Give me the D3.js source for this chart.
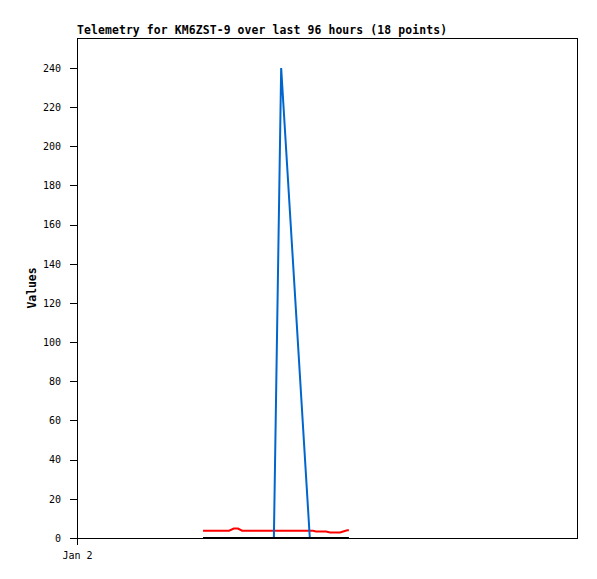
<!DOCTYPE html>
<html>
<head>
<meta charset="utf-8">
<script src="https://cdn.jsdelivr.net/npm/d3@7"></script>
<style>
  body { margin: 0; background: #fff; }
  text { font-family: "DejaVu Sans Mono", monospace; fill: #000; }
</style>
</head>
<body>
<div id="chart"></div>
<script>
// Telemetry readings, hours after Jan 2 00:00
var hours = [24.2, 26.5, 29.2, 30.1, 30.9, 31.7, 34.0, 37.8, 39.2, 44.7, 45.3, 45.9, 47.8, 48.6, 50.5, 51.1, 51.9, 52.2];
var chanA = [3.7, 3.7, 3.7, 4.8, 4.8, 3.7, 3.7, 3.7, 3.7, 3.7, 3.7, 3.3, 3.3, 2.8, 2.8, 3.3, 3.9, 3.9];
var chanB = [0, 0, 0, 0, 0, 0, 0, 0, 240, 0, 0, 0, 0, 0, 0, 0, 0, 0];
var chanC = [0, 0, 0, 0, 0, 0, 0, 0, 0, 0, 0, 0, 0, 0, 0, 0, 0, 0];
var yTicks = [0, 20, 40, 60, 80, 100, 120, 140, 160, 180, 200, 220, 240];
var title = 'Telemetry for KM6ZST-9 over last 96 hours (18 points)';

var width = 597, height = 579,
    margin = {left: 77, right: 20, top: 38, bottom: 41};
var chartWidth = width - margin.left - margin.right;
var chartHeight = height - margin.top - margin.bottom;

var start = new Date(2024, 0, 2, 0, 0);
var toDate = h => new Date(start.getTime() + h * 3600 * 1000);

var xScale = d3.scaleTime()
    .domain([start, toDate(96)])
    .range([0, chartWidth]);
var yScale = d3.scaleLinear()
    .domain([0, 255.3])
    .range([chartHeight, 0]);

var svg = d3.select('#chart').append('svg')
    .attr('width', width)
    .attr('height', height);

var g = svg.append('g')
    .attr('transform', 'translate(' + margin.left + ',' + margin.top + ')');

// frame
g.append('rect')
    .attr('x', 0.5).attr('y', 0.5)
    .attr('width', chartWidth).attr('height', chartHeight)
    .attr('fill', 'none')
    .attr('stroke', '#000')
    .attr('shape-rendering', 'crispEdges');

// y axis
var yAxis = d3.axisLeft(yScale)
    .tickValues(yTicks)
    .tickSize(7)
    .tickPadding(9);
var yG = g.append('g').attr('class', 'axis y').call(yAxis);
yG.select('.domain').remove();
yG.selectAll('line').attr('stroke', '#000').attr('shape-rendering', 'crispEdges');
yG.selectAll('text').attr('font-size', 10).attr('font-family', '"DejaVu Sans Mono", monospace').attr('fill', '#000');

// x axis: only the Jan 2 tick
var xAxis = d3.axisBottom(xScale)
    .tickValues([start])
    .tickFormat(d3.timeFormat('%b %-d'))
    .tickSize(7)
    .tickPadding(7);
var xG = g.append('g')
    .attr('class', 'axis x')
    .attr('transform', 'translate(0,' + chartHeight + ')')
    .call(xAxis);
xG.select('.domain').remove();
xG.selectAll('line').attr('stroke', '#000').attr('shape-rendering', 'crispEdges');
xG.selectAll('text').attr('font-size', 10).attr('font-family', '"DejaVu Sans Mono", monospace').attr('fill', '#000');

// titles
svg.append('text')
    .attr('x', margin.left)
    .attr('y', 34)
    .attr('font-size', 11.4)
    .attr('font-weight', 'bold')
    .attr('textLength', 370)
    .attr('lengthAdjust', 'spacing')
    .text(title);

svg.append('text')
    .attr('transform', 'translate(36,' + (margin.top + chartHeight / 2) + ') rotate(-90)')
    .attr('text-anchor', 'middle')
    .attr('font-size', 11.4)
    .attr('font-weight', 'bold')
    .text('Values');

// series
var series = [
    {vals: chanA, color: '#ff0000'},
    {vals: chanB, color: '#0066cc'},
    {vals: chanC, color: '#000000'}
];

var line = d3.line()
    .x((d, i) => xScale(toDate(hours[i])))
    .y(d => yScale(d));

g.selectAll('path.series')
    .data(series)
    .enter()
    .append('path')
    .attr('class', 'series')
    .attr('d', d => line(d.vals))
    .attr('fill', 'none')
    .attr('stroke', d => d.color)
    .attr('stroke-width', 2);
</script>
</body>
</html>
